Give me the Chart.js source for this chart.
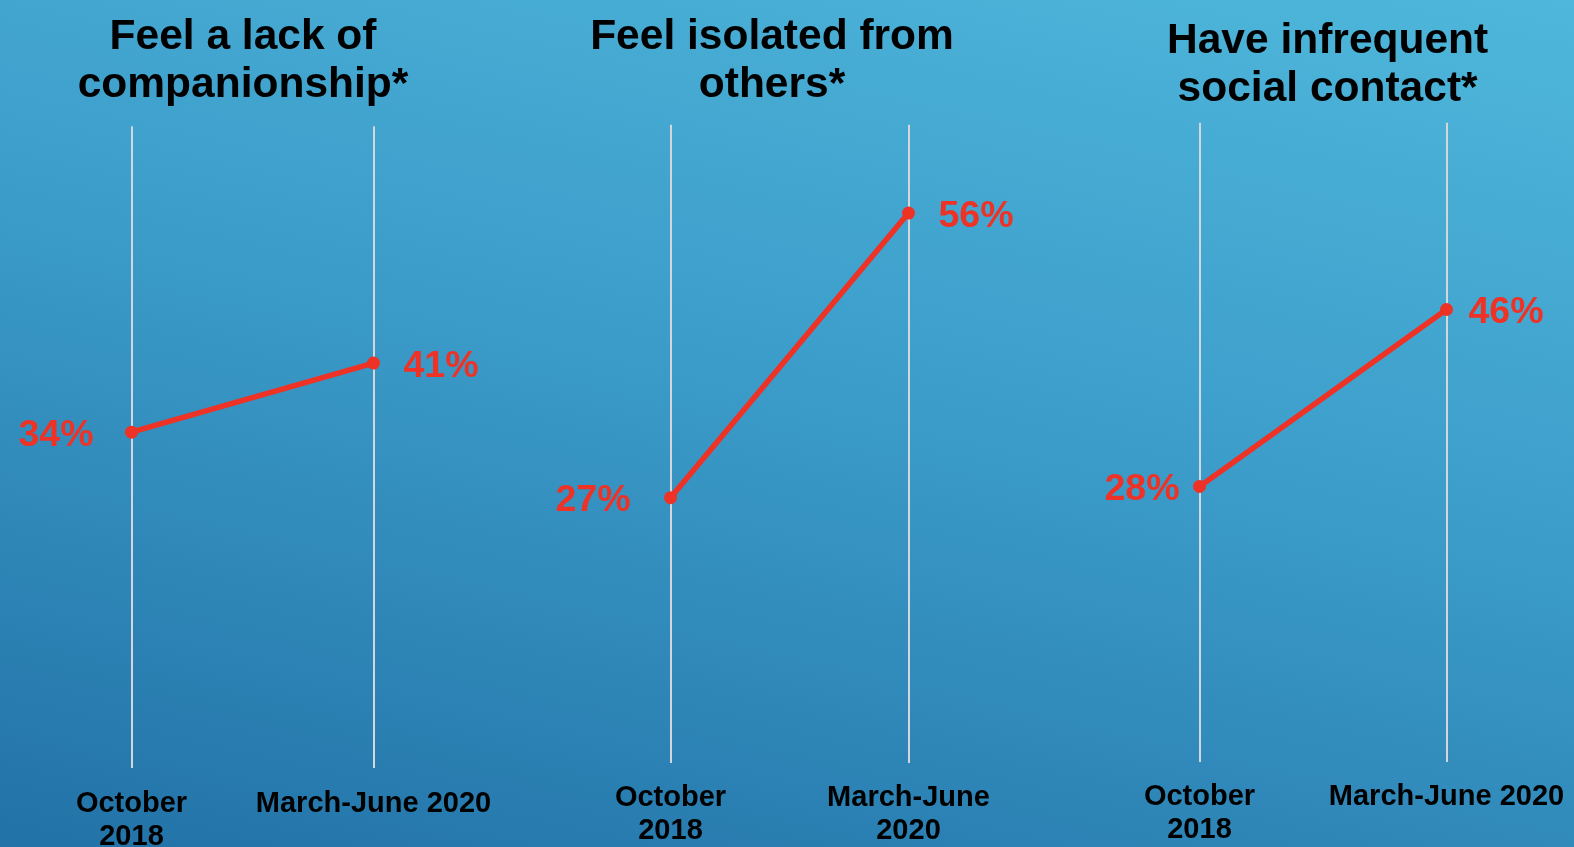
<!DOCTYPE html>
<html>
<head>
<meta charset="utf-8">
<script src="https://cdn.jsdelivr.net/npm/chart.js@4.4.1/dist/chart.umd.min.js"></script>
<style>
  html, body {
    margin: 0;
    padding: 0;
    width: 1574px;
    height: 847px;
    overflow: hidden;
  }
  body {
    position: relative;
    background: linear-gradient(193deg, #4fb7db 0%, #3c9dca 45%, #2272a7 100%);
  }
  .panel {
    position: absolute;
    top: 0;
    height: 847px;
  }
</style>
</head>
<body>
<div class="panel" style="left:-10px;width:506px;"><canvas id="chart1"></canvas></div>
<div class="panel" style="left:516px;width:512px;"><canvas id="chart2"></canvas></div>
<div class="panel" style="left:1075px;width:505px;"><canvas id="chart3"></canvas></div>

<script>
// survey values, percent of respondents
const lackCompanionship = [34, 41];
const isolatedFromOthers = [27, 56];
const infrequentContact = [28, 46];

const titles1 = ['Feel a lack of', 'companionship*'];
const titles2 = ['Feel isolated from', 'others*'];
const titles3 = ['Have infrequent', 'social contact*'];

const ticks1 = [['October', '2018'], 'March-June 2020'];
const ticks2 = [['October', '2018'], ['March-June', '2020']];
const ticks3 = [['October', '2018'], 'March-June 2020'];

const RED = '#ee3226';
const FONT = '"Liberation Sans", Arial, Helvetica, sans-serif';

// percent labels beside each point: first one on the left, second on the right
const pointLabels = {
    id: 'pointLabels',
    afterDatasetsDraw(chart, args, opts) {
        const ctx = chart.ctx;
        const meta = chart.getDatasetMeta(0);
        const values = chart.data.datasets[0].data;
        ctx.save();
        ctx.fillStyle = RED;
        ctx.font = 'bold 37.5px ' + FONT;
        ctx.textBaseline = 'alphabetic';
        meta.data.forEach((pt, i) => {
            const text = values[i] + '%';
            const y = pt.y + 13.5;
            if (i === 0) {
                ctx.textAlign = 'right';
                ctx.fillText(text, pt.x - opts.left, y);
            } else {
                ctx.textAlign = 'left';
                ctx.fillText(text, pt.x + opts.right, y);
            }
        });
        ctx.restore();
    }
};

function makeChart(id, labels, values, title, layout) {
    const ctx = document.getElementById(id).getContext('2d');
    return new Chart(ctx, {
        type: 'line',
        data: {
            labels: labels,
            datasets: [{
                data: values,
                borderColor: RED,
                backgroundColor: RED,
                borderWidth: 5.5,
                pointRadius: 6.5,
                pointBackgroundColor: RED,
                pointBorderWidth: 0,
                tension: 0
            }]
        },
        options: {
            responsive: true,
            maintainAspectRatio: false,
            animation: false,
            events: [],
            layout: {
                autoPadding: false,
                padding: { left: layout.padLeft, right: layout.padRight, top: 0, bottom: 0 }
            },
            plugins: {
                legend: { display: false },
                tooltip: { enabled: false },
                title: {
                    display: true,
                    text: title,
                    color: '#000',
                    font: { family: FONT, size: 42.5, weight: 'bold', lineHeight: 1.13 },
                    padding: { top: layout.titleTop, bottom: layout.titleBottom }
                },
                pointLabels: { left: layout.labelLeft, right: layout.labelRight }
            },
            scales: {
                x: {
                    offset: true,
                    border: { display: false },
                    grid: {
                        offset: false,
                        drawTicks: false,
                        color: '#d3d7db',
                        lineWidth: 2
                    },
                    ticks: {
                        color: '#000',
                        padding: layout.tickPad,
                        maxRotation: 0,
                        autoSkip: false,
                        font: { family: FONT, size: 29, weight: 'bold', lineHeight: 1.14 }
                    },
                    afterFit(scale) {
                        scale.height = layout.axisHeight;
                        scale.paddingLeft = 0;
                        scale.paddingRight = 0;
                    }
                },
                // invisible axis, only used as a spacer beside the plot
                y: {
                    position: layout.spacerSide,
                    min: 0,
                    max: 65,
                    border: { display: false },
                    grid: { display: false },
                    ticks: { display: false },
                    afterFit(scale) { scale.width = layout.spacer; }
                }
            }
        },
        plugins: [pointLabels]
    });
}

makeChart('chart1', ticks1, lackCompanionship, titles1, {
    padLeft: 1.5, padRight: 1.5, spacerSide: 'left', spacer: 19,
    titleTop: 13, titleBottom: 17.2,
    tickPad: 20, axisHeight: 79.3, labelLeft: 38, labelRight: 30
});
makeChart('chart2', ticks2, isolatedFromOthers, titles2, {
    padLeft: 0.5, padRight: 0.5, spacerSide: 'left', spacer: 35,
    titleTop: 13, titleBottom: 15.7,
    tickPad: 19, axisHeight: 84.3, labelLeft: 40, labelRight: 30
});
makeChart('chart3', ticks3, infrequentContact, titles3, {
    padLeft: 1, padRight: 0.8, spacerSide: 'right', spacer: 9.2,
    titleTop: 17.5, titleBottom: 9.2,
    tickPad: 18.5, axisHeight: 85.3, labelLeft: 20, labelRight: 22
});
</script>
</body>
</html>
